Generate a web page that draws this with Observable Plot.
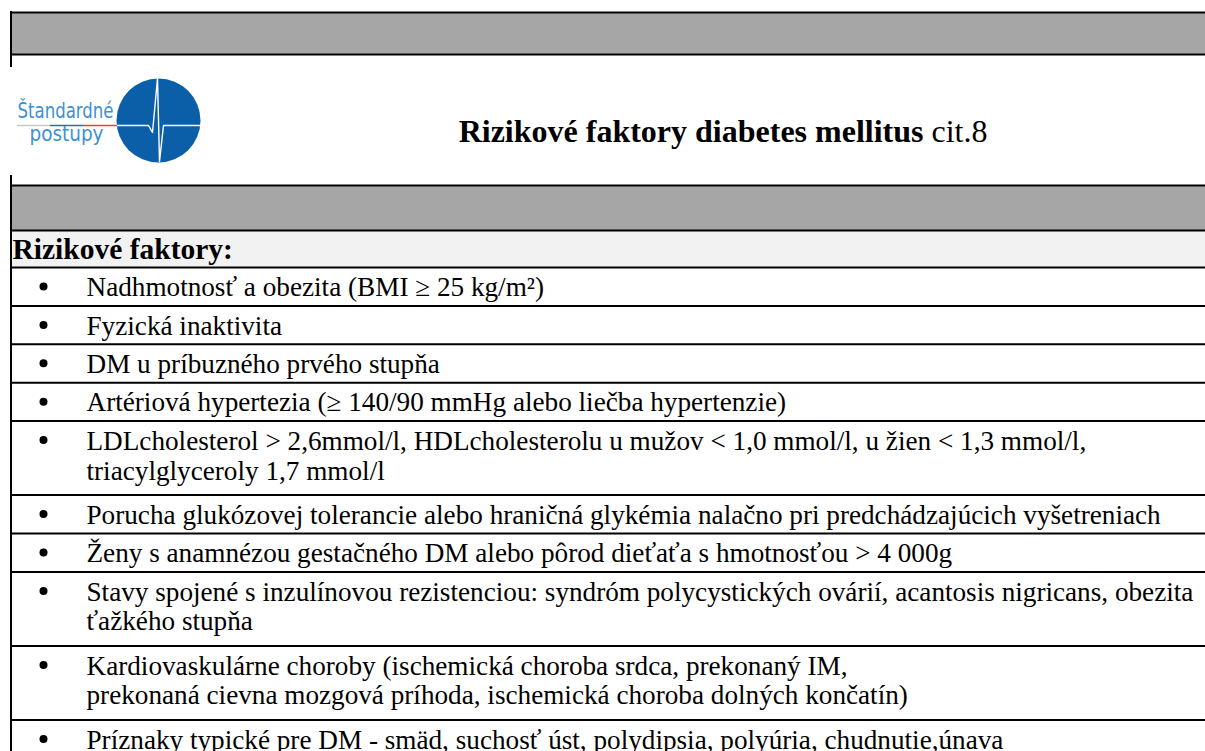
<!DOCTYPE html>
<html>
<head>
<meta charset="utf-8">
<script src="https://cdn.jsdelivr.net/npm/d3@7"></script>
<script src="https://cdn.jsdelivr.net/npm/@observablehq/plot@0.6"></script>
<style>
html, body { margin: 0; padding: 0; background: #fff; overflow: hidden; }
</style>
</head>
<body>
<div id="chart"></div>
<script>
// ---- content ----
const titleBold = "Rizikové faktory diabetes mellitus";
const titleCite = "cit.8";
const sectionLabel = "Rizikové faktory:";
const logoWords = ["Štandardné", "postupy"];
const riskFactors = [
  "Nadhmotnosť a obezita (BMI ≥ 25 kg/m²)",
  "Fyzická inaktivita",
  "DM u príbuzného prvého stupňa",
  "Artériová hypertezia (≥ 140/90 mmHg alebo liečba hypertenzie)",
  "LDLcholesterol > 2,6mmol/l, HDLcholesterolu u mužov < 1,0 mmol/l, u žien < 1,3 mmol/l,\ntriacylglyceroly 1,7 mmol/l",
  "Porucha glukózovej tolerancie alebo hraničná glykémia nalačno pri predchádzajúcich vyšetreniach",
  "Ženy s anamnézou gestačného DM alebo pôrod dieťaťa s hmotnosťou > 4 000g",
  "Stavy spojené s inzulínovou rezistenciou: syndróm polycystických ovárií, acantosis nigricans, obezita\nťažkého stupňa",
  "Kardiovaskulárne choroby (ischemická choroba srdca, prekonaný IM,\nprekonaná cievna mozgová príhoda, ischemická choroba dolných končatín)",
  "Príznaky typické pre DM - smäd, suchosť úst, polydipsia, polyúria, chudnutie,únava"
];

// ---- layout (pixels) ----
const W = 1205, H = 751;
const L = 10;
const bandTop = [12, 54];
const logoBand = [54, 185];
const band2 = [185, 230];
const headRow = [230, 267];
const lineH = 30, firstLineOffset = 19, singleRowH = 38.4, extraLineH = 35.6;
const fs = 27.2;

let yCursor = headRow[1];
const rows = riskFactors.map(t => {
  const n = t.split("\n").length;
  const h = singleRowH + (n - 1) * extraLineH;
  const r = {text: t, n, top: yCursor, h};
  yCursor += h;
  return r;
});
const ruleYs = [bandTop[0], bandTop[1], logoBand[1], band2[1], headRow[1], ...rows.slice(1).map(r => r.top)];

// logo geometry
const logoC = {x: 158, y: 120, r: 42};
const ecg = [[117,125],[148,125],[152,132],[157,78],[159,161],[163,125],[199,125]].map(([x,y]) => ({x,y}));
const logoLine = [
  {x1: 17, x2: 50, c: "#c9c9c9"},
  {x1: 50, x2: 83, c: "#2a6db5"},
  {x1: 83, x2: 117, c: "#e0453a"}
];
const logoTextLen = [96, 74];

const serif = "'Liberation Serif', 'Times New Roman', serif";
const narrow = "'Liberation Sans Narrow', 'DejaVu Sans Condensed', 'Roboto', sans-serif";

const plot = Plot.plot({
  width: W, height: H,
  marginTop: 0, marginRight: 0, marginBottom: 0, marginLeft: 0,
  x: {domain: [0, W], range: [0, W], axis: null},
  y: {domain: [0, H], range: [0, H], axis: null},
  style: {background: "#fff", overflow: "hidden"},
  marks: [
    Plot.rect([bandTop], {x1: L, x2: W, y1: d => d[0], y2: d => d[1], fill: "#a6a6a6"}),
    Plot.rect([band2], {x1: L, x2: W, y1: d => d[0], y2: d => d[1], fill: "#a6a6a6"}),
    Plot.rect([headRow], {x1: L, x2: W, y1: d => d[0], y2: d => d[1], fill: "#f2f2f2"}),
    Plot.ruleY(ruleYs, {x1: L, x2: W, stroke: "#000", strokeWidth: 2}),
    Plot.ruleX([L + 0.5], {y1: bandTop[0] - 1, y2: H, stroke: "#000", strokeWidth: 2}),
    Plot.rect([0], {x1: L - 1, x2: 215, y1: 67, y2: 175, fill: "#fff"}),
    Plot.dot([logoC], {x: "x", y: "y", r: logoC.r, fill: "#0b5fa8", stroke: null}),
    Plot.ruleY(logoLine, {x1: "x1", x2: "x2", y: 125, stroke: "c", strokeWidth: 1.5}),
    Plot.line(ecg, {x: "x", y: "y", stroke: "#fff", strokeWidth: 1.4, curve: "linear"}),
    Plot.text([logoWords[0]], {x: 17, y: 111, text: d => d, textAnchor: "start", lineAnchor: "middle",
      fontSize: 21, fontFamily: narrow, fontWeight: 300, fill: "#3f8fd2"}),
    Plot.text([logoWords[1]], {x: 29, y: 134, text: d => d, textAnchor: "start", lineAnchor: "middle",
      fontSize: 21, fontFamily: narrow, fontWeight: 300, fill: "#3f8fd2"}),
    Plot.text([titleBold], {x: 923, y: 131, text: d => d, textAnchor: "end", lineAnchor: "middle",
      fontSize: 32, fontWeight: "bold", fontFamily: serif, fill: "#000"}),
    Plot.text([titleCite], {x: 931, y: 131, text: d => d, textAnchor: "start", lineAnchor: "middle",
      fontSize: 32, fontFamily: serif, fill: "#000"}),
    Plot.text([sectionLabel], {x: 12, y: 249, text: d => d, textAnchor: "start", lineAnchor: "middle",
      fontSize: 29.5, fontWeight: "bold", fontFamily: serif, fill: "#000"}),
    Plot.dot(rows, {x: 43, y: d => d.top + firstLineOffset, r: 4, fill: "#000", stroke: null}),
    Plot.text(rows, {x: 86, y: d => d.top + firstLineOffset + (d.n - 1) * lineH / 2,
      text: "text", textAnchor: "start", lineAnchor: "middle", lineHeight: lineH / fs,
      fontSize: fs, fontFamily: serif, fill: "#000"})
  ]
});
// fit the condensed logo lettering to its width
d3.select(plot).selectAll("text").each(function () {
  const i = logoWords.indexOf(this.textContent);
  if (i >= 0) d3.select(this).attr("textLength", logoTextLen[i]).attr("lengthAdjust", "spacingAndGlyphs");
});
document.getElementById("chart").appendChild(plot);
</script>
</body>
</html>
